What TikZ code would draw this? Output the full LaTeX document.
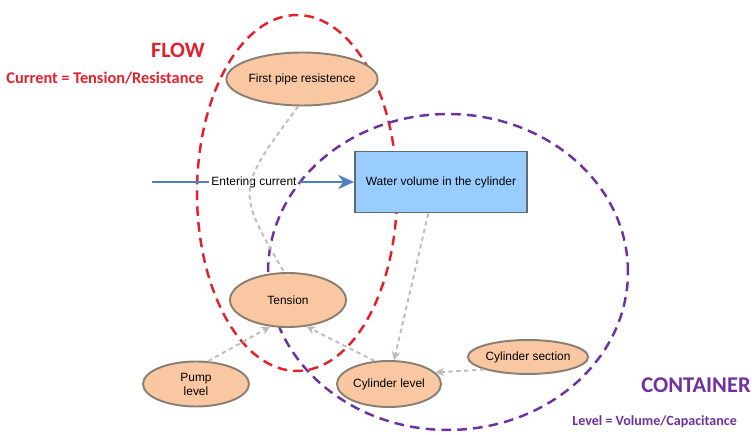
\documentclass[tikz,border=0pt]{standalone}
\usepackage{fontspec}
\setmainfont{Liberation Sans}
\newfontfamily\headfont{Carlito}
\usetikzlibrary{arrows.meta,shapes.geometric}

\definecolor{flowred}{HTML}{E3202C}
\definecolor{contpurple}{HTML}{7030A0}
\definecolor{peach}{HTML}{F9C8A2}
\definecolor{peachline}{HTML}{8A7F73}
\definecolor{waterblue}{HTML}{99CCFF}
\definecolor{boxline}{HTML}{5F6B73}
\definecolor{linkgray}{HTML}{BDBDBD}
\definecolor{currentblue}{HTML}{4F7FC0}

\tikzset{
  quantity/.style={ellipse,draw=peachline,fill=peach,line width=1.1pt,
    inner sep=0pt,font=\fontsize{6.8}{8}\selectfont,align=center},
  link/.style={draw=linkgray,line width=1.1pt,dash pattern=on 2.5pt off 2pt,
    -{Stealth[length=5pt,width=5pt]}},
  zone/.style={line width=1.4pt,dash pattern=on 5.5pt off 3.5pt},
}

\begin{document}
\begin{tikzpicture}[x=0.02cm,y=-0.02cm]
  \useasboundingbox (0,0) rectangle (752,435);

  % the two zones
  \draw[zone,flowred] (297,193) ellipse [x radius=2cm,y radius=3.56cm];
  \draw[zone,contpurple] (448,272) ellipse [x radius=3.6cm,y radius=3.16cm];

  \node[anchor=east,inner sep=0pt,text=flowred,font=\headfont\bfseries\fontsize{12.5}{14}\selectfont]
    (flow) at (205,50) {FLOW};
  \node[text=flowred,font=\headfont\bfseries\fontsize{9.3}{10}\selectfont]
    (flowlaw) at (105,78) {Current = Tension/Resistance};
  \node[anchor=east,inner sep=0pt,text=contpurple,font=\headfont\bfseries\fontsize{12.8}{15}\selectfont]
    (container) at (751,385) {CONTAINER};
  \node[anchor=west,inner sep=0pt,text=contpurple,font=\headfont\bfseries\fontsize{8}{10}\selectfont]
    (contlaw) at (572,422) {Level = Volume/Capacitance};

  % quantities
  \node[quantity,minimum width=2.48cm,minimum height=1.06cm] (pipe) at (302,79) {First pipe resistence};
  \node[draw=boxline,fill=waterblue,line width=1.1pt,minimum width=3.44cm,minimum height=1.22cm,
    font=\fontsize{6.8}{8}\selectfont] (water) at (441,182) {Water volume in the cylinder};
  \node[quantity,minimum width=2.32cm,minimum height=1.08cm] (tension) at (288,300) {Tension};
  \node[quantity,minimum width=2.12cm,minimum height=0.9cm] (pump) at (196,384) {Pump\\level};
  \node[quantity,minimum width=2.08cm,minimum height=0.92cm] (cyllevel) at (389,384) {Cylinder level};
  \node[quantity,minimum width=2.04cm,minimum height=0.68cm] (cylsection) at (528,357) {Cylinder section};

  % entering current
  \coordinate (source) at (152,182);
  \node[fill=white,inner sep=1pt,font=\fontsize{6.8}{8}\selectfont] (entering) at (254,182) {Entering current};
  \draw[currentblue,line width=1.6pt] (source) -- (entering);
  \draw[currentblue,line width=1.6pt,-{Stealth[length=9pt,width=8pt]}] (entering) -- (water);

  % links
  \draw[link,-] (pipe.262) .. controls (236,190) .. (tension.98);
  \draw[link] (water.-112) -- (cyllevel.78);
  \draw[link] (pump.62) -- (tension.236);
  \draw[link] (cyllevel.122) -- (tension.-55);
  \draw[link] (cylsection.196) -- (cyllevel.14);
\end{tikzpicture}
\end{document}
